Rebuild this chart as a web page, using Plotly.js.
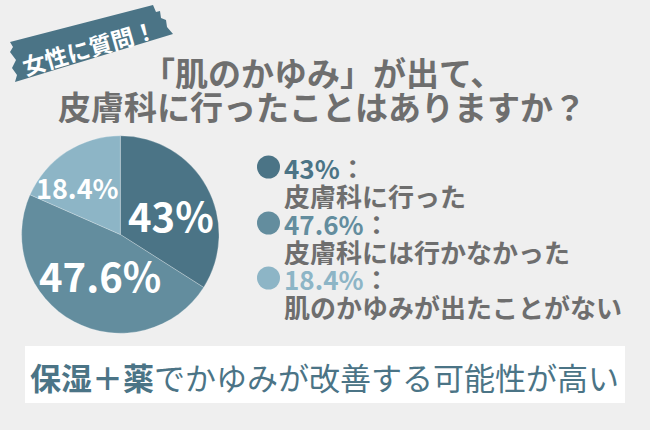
<!DOCTYPE html>
<html>
<head>
<meta charset="utf-8">
<script src="https://cdn.plot.ly/plotly-3.0.1.min.js"></script>
<style>html,body{margin:0;padding:0;background:#efefef;}#chart{width:650px;height:430px;}</style>
</head>
<body>
<div id="chart"></div>
<script>
// ---- data ----
var categories = ['皮膚科に行った', '皮膚科には行かなかった', '肌のかゆみが出たことがない'];
var sliceValues = [34, 47.6, 18.4];          // slice sizes as drawn
var shownLabels = ['43%', '47.6%', '18.4%']; // percentages printed on the chart
var colors = ['#4b7486', '#638d9e', '#8db5c6'];
var titleLines = ['「肌のかゆみ」が出て、', '皮膚科に行ったことはありますか？'];
var bannerText = '女性に質問！';
var footerBold = '保湿＋薬';
var footerRest = 'でかゆみが改善する可能性が高い';

var FONT = '"Noto Sans CJK JP", "Noto Sans", sans-serif';
var GRAY = '#6e6e6e';

var annotations = [];
var shapes = [];

// banner
shapes.push({
  type: 'path', xref: 'x', yref: 'y', layer: 'below',
  path: 'M10,42 L153,5 L156,12 L160,11 L161,18 L166,20 L167,27 L173,34 L15,82 L17,75 L12,68 L16,60 L10,52 L13,47 Z',
  fillcolor: '#4b7486', line: {width: 0}
});
annotations.push({
  x: 89, y: 47, xref: 'x', yref: 'y', text: bannerText, showarrow: false,
  textangle: -16, font: {family: FONT, size: 23, color: '#ffffff', weight: 700}
});

// title
annotations.push({x: 322, y: 72, xref: 'x', yref: 'y', text: titleLines[0], showarrow: false, height: 34,
  font: {family: FONT, size: 33, color: GRAY, weight: 700}});
annotations.push({x: 322, y: 106, xref: 'x', yref: 'y', text: titleLines[1], showarrow: false, height: 34,
  font: {family: FONT, size: 33, color: GRAY, weight: 700}});

// pie labels
var pieLabelPos = [[171, 215, 40], [100, 275, 40], [77.5, 187, 27]];
for (var i = 0; i < shownLabels.length; i++) {
  annotations.push({x: pieLabelPos[i][0], y: pieLabelPos[i][1], xref: 'x', yref: 'y',
    text: shownLabels[i], showarrow: false,
    font: {family: FONT, size: pieLabelPos[i][2], color: '#ffffff', weight: 700}});
}

// legend text
var legendY = [167, 223, 278];
for (var j = 0; j < categories.length; j++) {
  annotations.push({x: 282, y: legendY[j], xref: 'x', yref: 'y', xanchor: 'left', height: 28,
    text: shownLabels[j] + '<span style="color:' + GRAY + '">：</span>', showarrow: false,
    font: {family: FONT, size: 26, color: colors[j], weight: 700}});
  annotations.push({x: 282, y: legendY[j] + 28, xref: 'x', yref: 'y', xanchor: 'left', height: 28,
    text: categories[j], showarrow: false,
    font: {family: FONT, size: 26, color: GRAY, weight: 700}});
}

// footer box
shapes.push({type: 'rect', xref: 'x', yref: 'y', x0: 25, x1: 625, y0: 346, y1: 403,
  fillcolor: '#ffffff', line: {width: 0}, layer: 'below'});
annotations.push({x: 324, y: 376, xref: 'x', yref: 'y', showarrow: false,
  text: '<b>' + footerBold + '</b>' + footerRest,
  font: {family: FONT, size: 31, color: '#4b7486'}});

var pieTrace = {
  type: 'pie',
  labels: categories,
  values: sliceValues,
  sort: false,
  direction: 'clockwise',
  rotation: 0,
  textinfo: 'none',
  hoverinfo: 'none',
  marker: {colors: colors, line: {color: 'rgba(255,255,255,0.35)', width: 0.7}},
  domain: {x: [0.0332, 0.3370], y: [0.2251, 0.6842]},
  showlegend: false
};

var legendDots = {
  type: 'scatter', mode: 'markers',
  x: [268.5, 268.5, 268.5], y: legendY,
  marker: {size: 23, color: colors, line: {width: 0}},
  hoverinfo: 'none', showlegend: false
};

var layout = {
  width: 650, height: 430,
  margin: {l: 0, r: 0, t: 0, b: 0},
  paper_bgcolor: '#efefef', plot_bgcolor: 'rgba(0,0,0,0)',
  showlegend: false,
  xaxis: {range: [0, 650], visible: false, fixedrange: true},
  yaxis: {range: [430, 0], visible: false, fixedrange: true},
  shapes: shapes,
  annotations: annotations
};

Plotly.newPlot('chart', [legendDots, pieTrace], layout, {displayModeBar: false, staticPlot: true});
</script>
</body>
</html>
